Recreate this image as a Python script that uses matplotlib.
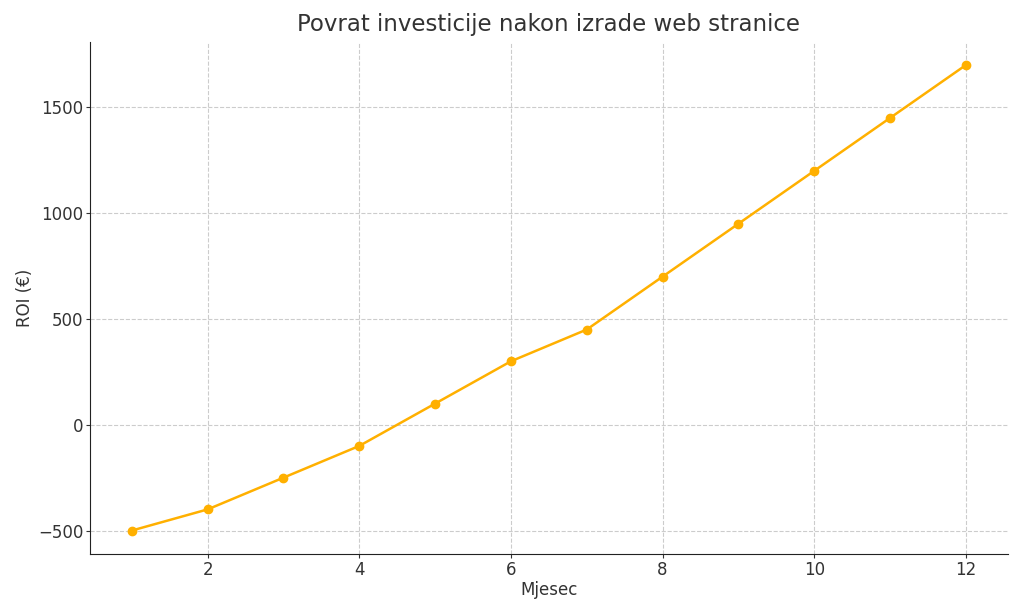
import matplotlib
matplotlib.use("Agg")
import matplotlib.pyplot as plt

months = [1, 2, 3, 4, 5, 6, 7, 8, 9, 10, 11, 12]
roi = [-500, -400, -250, -100, 100, 300, 450, 700, 950, 1200, 1450, 1700]

plt.rcParams['font.family'] = ['DejaVu Sans']
fig, ax = plt.subplots(figsize=(10.24, 6.14), dpi=100)
fig.subplots_adjust(left=0.088, right=0.984, top=0.932, bottom=0.098)

ax.plot(months, roi, color='#FFB000', marker='o', markersize=6, linewidth=1.8)
ax.set_title('Povrat investicije nakon izrade web stranice', fontsize=16.5, color='#333333', pad=8)
ax.set_xlabel('Mjesec', fontsize=12, color='#333333', labelpad=1.5)
ax.set_ylabel('ROI (€)', fontsize=12, color='#333333', labelpad=3)
ax.grid(True, linestyle='--', color='#cccccc', linewidth=0.8)
ax.set_axisbelow(True)
ax.spines['top'].set_visible(False)
ax.spines['right'].set_visible(False)
ax.spines['left'].set_color('#222222')
ax.spines['bottom'].set_color('#222222')
ax.tick_params(labelsize=12, colors='#333333', length=3, pad=2)
ax.set_yticks([-500, 0, 500, 1000, 1500])

fig.savefig('out.png', dpi=100)
